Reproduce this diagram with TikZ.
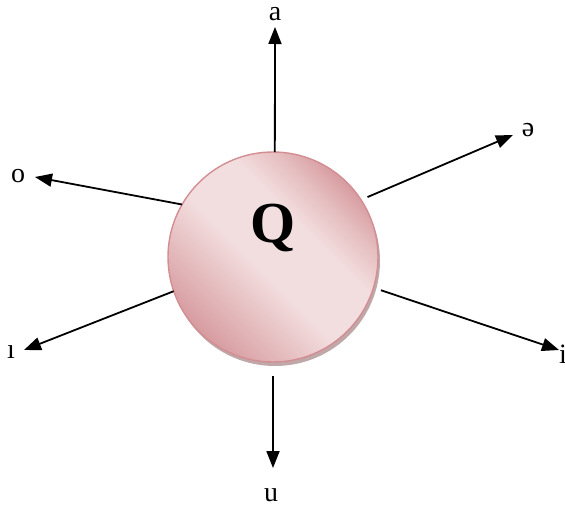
\documentclass[tikz,border=0pt]{standalone}
\usepackage{fontspec}
\setmainfont{Liberation Serif}
\usetikzlibrary{arrows.meta,shadows}
\definecolor{qdark}{HTML}{D79CA0}
\definecolor{qmid}{HTML}{E6BFC1}
\definecolor{qlight}{HTML}{F3DEDF}
\definecolor{qedge}{HTML}{D38E93}
\definecolor{qshadow}{HTML}{B09294}
\pgfdeclareverticalshading{ballshade}{100bp}{color(0bp)=(qdark); color(25bp)=(qdark); color(36bp)=(qmid); color(46bp)=(qlight); color(60bp)=(qlight); color(68bp)=(qmid); color(75bp)=(qdark); color(100bp)=(qdark)}
\begin{document}
\begin{tikzpicture}[x=1pt,y=-1pt,
  ray/.style={line width=1.8pt,-{Triangle[length=17pt,width=13pt]}},
  lbl/.style={inner sep=0pt,font=\fontsize{28}{30}\selectfont},
  ball/.style={circle,minimum size=210pt,inner sep=0pt,outer sep=0pt,
    draw=qedge,line width=1.4pt,
    shading=ballshade,shading angle=-45,
    drop shadow={shadow xshift=2pt,shadow yshift=-4pt,fill=qshadow,opacity=0.8}}]
\useasboundingbox (0,0) rectangle (565,506);
\node[ball] (Q) at (273,257) {};
\node[font=\bfseries\fontsize{58}{62}\selectfont,inner sep=0pt] (Qt) at (273,228) {Q};
\coordinate (ta) at (275,27);
\coordinate (tu) at (273,468);
\coordinate (tschwa) at (513,135);
\coordinate (ti) at (559,350);
\coordinate (to) at (35,177);
\coordinate (tdi) at (24,350);
\draw[ray] (Q.89) -- (ta);
\draw[ray,shorten <=14pt] (Q.south) -- (tu);
\draw[ray,shorten <=7pt] (Q.33) -- (tschwa);
\draw[ray,shorten <=8pt] (Q.-17.5) -- (ti);
\draw[ray] (Q.150) -- (to);
\draw[ray] (Q.199.5) -- (tdi);
\node[lbl] (la) at (275,14) {a};
\node[lbl] (lu) at (271,495) {u};
\node[lbl] (lschwa) at (528,130) {ə};
\node[lbl,anchor=west] (li) at (559,354) {i};
\node[lbl] (lo) at (18,176) {o};
\node[lbl] (ldi) at (11,352) {ı};
\end{tikzpicture}
\end{document}
